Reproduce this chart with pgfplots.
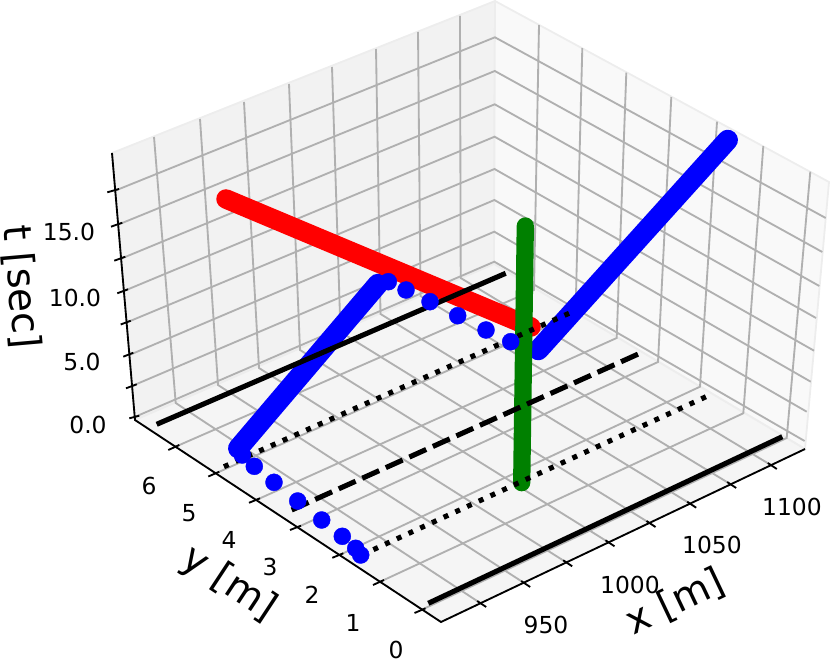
\documentclass[border=0pt]{standalone}
\usepackage{fontspec}
\setmainfont{DejaVu Sans}
\usepackage{pgfplots}
\pgfplotsset{compat=1.18}
\definecolor{gridc}{HTML}{B0B0B0}
\definecolor{paneL}{HTML}{F2F2F2}
\definecolor{paneR}{HTML}{F9F9F9}
\definecolor{paneF}{HTML}{F5F5F5}
\definecolor{paneE}{HTML}{EDEDED}
\definecolor{mgreen}{HTML}{008000}
\tikzset{
  tk/.style={black, line width=1.85pt},
  gr/.style={gridc, line width=1.85pt, line join=miter},
  thickline/.style={line cap=round, line join=round},
  blk/.style={black, line width=5.1pt},
  ticklab/.style={inner sep=0pt, font=\fontsize{23.4}{23.4}\selectfont},
  axlab/.style={inner sep=0pt, font=\fontsize{39}{39}\selectfont},
}
\begin{document}
\begin{tikzpicture}
\useasboundingbox (0,0) rectangle (830pt,660pt);
% mplot3d perspective view: pgfplots has no perspective projection, so the
% chart is plotted in the view plane (coordinates).
\begin{axis}[
  at={(0,0)}, anchor=south west,
  scale only axis, width=830pt, height=660pt,
  xmin=0, xmax=830, ymin=0, ymax=660, y dir=reverse,
  hide axis, clip=false,
]
% panes
\addplot[fill=paneL, draw=paneE, line width=1.8pt] coordinates {(135,420)(112,153)(495,1)(494,264)(135,420)};
\addplot[fill=paneR, draw=paneE, line width=1.8pt] coordinates {(495,1)(829,182)(805,449)(494,264)(495,1)};
\addplot[fill=paneF, draw=paneE, line width=1.8pt] coordinates {(135,420)(441,622)(805,449)(494,264)(135,420)};
% x grid
\addplot[gr] coordinates {(154,137)(175.7,403)(479.7,602.7)};
\addplot[gr] coordinates {(200,119)(218,385)(523.7,582.7)};
\addplot[gr] coordinates {(244,102)(259,368)(565.7,562)};
\addplot[gr] coordinates {(289,84)(300,350)(608,542)};
\addplot[gr] coordinates {(332,67)(340.5,332)(649,522.7)};
\addplot[gr] coordinates {(376,49)(380.5,314)(689.7,503.4)};
\addplot[gr] coordinates {(418,32)(420.5,296)(729.7,483.7)};
\addplot[gr] coordinates {(460,16)(460.7,278)(770.3,464.7)};
% y grid
\addplot[gr] coordinates {(539,25)(534,290)(175.5,446.7)};
\addplot[gr] coordinates {(582.3,48)(575.5,314)(215.5,473.4)};
\addplot[gr] coordinates {(626.3,72.7)(616.7,338)(256.2,500)};
\addplot[gr] coordinates {(671.3,97)(658,362)(297.2,527.4)};
\addplot[gr] coordinates {(717,121.7)(700,386.7)(339.5,555)};
\addplot[gr] coordinates {(763.3,146)(743.3,413.3)(380.2,581.7)};
\addplot[gr] coordinates {(810.3,171.7)(786.7,438)(421.2,610)};
% z grid
\addplot[gr] coordinates {(134.7,417)(494.3,261.7)(804.6,441)};
\addplot[gr] coordinates {(132,386)(494.3,231.7)(806.7,411.7)};
\addplot[gr] coordinates {(129.4,355)(494.4,200)(810.7,381.7)};
\addplot[gr] coordinates {(126.6,322.5)(494.5,169)(814,350.7)};
\addplot[gr] coordinates {(123.9,291)(494.6,136.7)(816,318)};
\addplot[gr] coordinates {(121,258.7)(494.7,104.3)(819.3,286)};
\addplot[gr] coordinates {(118,224.7)(494.8,71)(822.3,252)};
\addplot[gr] coordinates {(115,190.7)(494.9,37.3)(825.7,218)};
% axis lines
\addplot[tk] coordinates {(112,153)(135,420)(441,622)(805,449)};
% x ticks
\addplot[tk] coordinates {(477.2,601)(486.2,607)};
\addplot[tk] coordinates {(521.2,581)(530.2,587)};
\addplot[tk] coordinates {(563.2,560.3)(572.2,566.3)};
\addplot[tk] coordinates {(605.5,540.3)(614.5,546.3)};
\addplot[tk] coordinates {(646.5,521)(655.5,527)};
\addplot[tk] coordinates {(687.2,501.7)(696.2,507.7)};
\addplot[tk] coordinates {(727.2,482)(736.2,488)};
\addplot[tk] coordinates {(767.8,463)(776.8,469)};
% y ticks
\addplot[tk] coordinates {(168.3,450)(179.3,445)};
\addplot[tk] coordinates {(208.3,476.5)(219.3,471.7)};
\addplot[tk] coordinates {(249,502.8)(260,498.3)};
\addplot[tk] coordinates {(290,530)(301,525.7)};
\addplot[tk] coordinates {(332.3,557.8)(343.3,553.3)};
\addplot[tk] coordinates {(373,585)(384,580)};
\addplot[tk] coordinates {(414.5,613)(425.5,608.3)};
% z ticks
\addplot[tk] coordinates {(129.3,418.3)(139.3,415.7)};
\addplot[tk] coordinates {(126,388.3)(136.7,384.3)};
\addplot[tk] coordinates {(123.3,356.7)(133.3,352.7)};
\addplot[tk] coordinates {(120.7,324.5)(130.7,320.7)};
\addplot[tk] coordinates {(117.3,293.3)(128,289.3)};
\addplot[tk] coordinates {(114.3,260.7)(125.3,256.7)};
\addplot[tk] coordinates {(111,226.7)(122.3,222.7)};
\addplot[tk] coordinates {(107.3,192.3)(119,189)};
% blue
\addplot[blue, thickline, line width=20.5pt] coordinates {(238.3,448.3)(378,284)};
\addplot[blue, thickline, line width=20.5pt] coordinates {(538.3,350)(727.7,140)};
\addplot[blue, only marks, mark=*, mark size=8.5pt, mark options={blue, fill=blue, line width=0.4pt}] coordinates {
 (242.3,455)(254.3,466.3)(274,482.3)(297.7,501)(321.7,520)(342.3,536.3)(355.7,548.3)(360.7,555)
 (388.3,281.7)(406,290)(430,301.7)(457.7,315.7)(486,330)(510.7,341.7)};
% red, green
\addplot[red, thickline, line width=19.5pt] coordinates {(226,199)(531,327)};
\addplot[mgreen, thickline, line width=17.3pt] coordinates {(525.3,226)(521.7,482.7)};
% black floor lines
\addplot[blk] coordinates {(156.7,424.3)(505.7,273.3)};
\addplot[blk, dash pattern=on 5pt off 7.85pt] coordinates {(224,466.7)(569,313.3)};
\addplot[blk, dash pattern=on 18.5pt off 7.3pt] coordinates {(291.7,510)(638.3,354)};
\addplot[blk, dash pattern=on 5pt off 7.89pt] coordinates {(361.7,555)(706,396.7)};
\addplot[blk] coordinates {(428.3,603.3)(782.3,436.7)};
% text
\node[ticklab] at (axis cs:546,625) {950};
\node[ticklab] at (axis cs:630,585) {1000};
\node[ticklab] at (axis cs:712,545) {1050};
\node[ticklab] at (axis cs:792,507) {1100};
\node[ticklab] at (axis cs:149,486) {6};
\node[ticklab] at (axis cs:189,513) {5};
\node[ticklab] at (axis cs:229,540) {4};
\node[ticklab] at (axis cs:270,567) {3};
\node[ticklab] at (axis cs:312,595) {2};
\node[ticklab] at (axis cs:353,623) {1};
\node[ticklab] at (axis cs:396,650) {0};
\node[ticklab] at (axis cs:88,425) {0.0};
\node[ticklab] at (axis cs:82,362) {5.0};
\node[ticklab] at (axis cs:75,298) {10.0};
\node[ticklab] at (axis cs:69,232) {15.0};
\node[axlab, rotate=25.4] at (axis cs:675,602) {x [m]};
\node[axlab, rotate=-33.4] at (axis cs:229,584) {y [m]};
\node[axlab, rotate=-85] at (axis cs:21,287) {t [sec]};
\end{axis}
\end{tikzpicture}
\end{document}
